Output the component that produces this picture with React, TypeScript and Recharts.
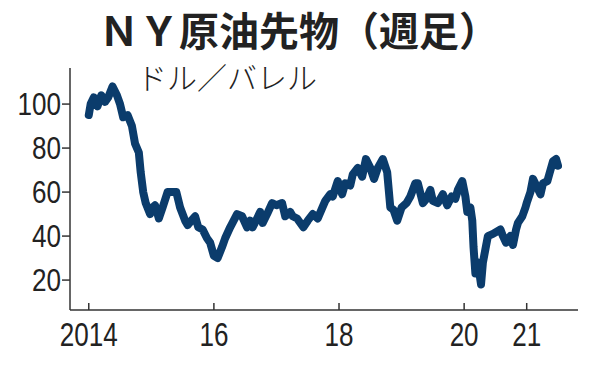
import React from 'react'
import { Line, LineChart, XAxis, YAxis } from 'recharts'

// time in fractional years
const weeks = [
  2014.0, 2014.03, 2014.08, 2014.14, 2014.2, 2014.26, 2014.31, 2014.38, 2014.45, 2014.5,
  2014.55, 2014.62, 2014.69, 2014.74, 2014.8, 2014.83, 2014.87, 2014.91, 2014.98, 2015.02,
  2015.06, 2015.12, 2015.18, 2015.26, 2015.4, 2015.46, 2015.54, 2015.58, 2015.64, 2015.7,
  2015.75, 2015.82, 2015.89, 2015.94, 2016.0, 2016.06, 2016.13, 2016.18, 2016.26, 2016.37,
  2016.45, 2016.53, 2016.58, 2016.62, 2016.69, 2016.74, 2016.78, 2016.85, 2016.93, 2017.0,
  2017.09, 2017.14, 2017.22, 2017.26, 2017.33, 2017.43, 2017.5, 2017.58, 2017.66, 2017.72,
  2017.78, 2017.86, 2017.9, 2017.98, 2018.05, 2018.1, 2018.18, 2018.22, 2018.3, 2018.37,
  2018.43, 2018.5, 2018.56, 2018.62, 2018.7, 2018.77, 2018.82, 2018.87, 2018.93, 2019.0,
  2019.08, 2019.14, 2019.22, 2019.26, 2019.34, 2019.4, 2019.46, 2019.5, 2019.58, 2019.66,
  2019.73, 2019.8, 2019.86, 2019.9, 2019.97, 2020.02, 2020.05, 2020.1, 2020.13, 2020.15,
  2020.18, 2020.22, 2020.27, 2020.3, 2020.34, 2020.38, 2020.46, 2020.58, 2020.62, 2020.67,
  2020.74, 2020.78, 2020.83, 2020.86, 2020.93, 2020.98, 2021.0, 2021.06, 2021.1, 2021.17,
  2021.22, 2021.26, 2021.33, 2021.36, 2021.42, 2021.47, 2021.5,
]

// WTI close, dollars per barrel
const prices = [
  95, 100, 103, 99, 104, 101, 103, 108, 104, 100,
  94, 95, 90, 82, 78, 69, 60, 55, 50, 53,
  54, 48, 53, 60, 60, 53, 47, 45, 47, 49,
  44, 43, 39, 37, 31, 30, 35, 39, 44, 50,
  49, 44, 47, 44, 48, 51, 46, 50, 55, 54,
  55, 49, 51, 49, 48, 44, 47, 50, 48, 52,
  56, 59, 58, 65, 59, 64, 63, 68, 71, 67,
  75, 71, 66, 71, 75, 69, 53, 52, 47, 53,
  55, 58, 64, 64, 55, 57, 61, 56, 55, 59,
  54, 58, 57, 61, 65, 58, 51, 53, 47, 35,
  23, 28, 18, 28, 34, 40, 41, 43, 40, 37,
  40, 36, 43, 46, 49, 53, 55, 60, 66, 62,
  59, 64, 65, 68, 74, 75, 72,
]

const yearTicks = [2014, 2016, 2018, 2020, 2021]
const yearLabels = ['2014', '16', '18', '20', '21']
const priceTicks = [20, 40, 60, 80, 100]

const data = weeks.map((t, i) => ({ t, price: prices[i] }))

const numFont = '"Liberation Sans", sans-serif'
const jpFont = '"Noto Sans CJK JP", sans-serif'
const digitW = 14.5 // condensed digits in the original

function YearTick({ x, y, payload }: any) {
  const label = yearLabels[yearTicks.indexOf(payload.value)]
  return (
    <g>
      <line x1={x} x2={x} y1={y - 7} y2={y} stroke='#333' strokeWidth={1.5} />
      <text x={x} y={y + 36} textAnchor='middle' fontSize={34} fontFamily={numFont} fill='#222'
        textLength={label.length * digitW} lengthAdjust='spacingAndGlyphs'>
        {label}
      </text>
    </g>
  )
}

function PriceTick({ x, y, payload }: any) {
  const label = String(payload.value)
  return (
    <text x={x} y={y} dy='0.355em' textAnchor='end' fontSize={32} fontFamily={numFont} fill='#222'
      textLength={label.length * digitW} lengthAdjust='spacingAndGlyphs'>
      {label}
    </text>
  )
}

export default function App() {
  return (
    <div style={{ position: 'absolute', left: 0, top: 0, width: 596, height: 368, background: '#fff' }}>
      <div style={{
        position: 'absolute', left: 99, top: 9, fontSize: 40, lineHeight: '40px',
        fontWeight: 700, fontFamily: jpFont, color: '#222', whiteSpace: 'nowrap'
      }}>
        ＮＹ原油先物（週足）
      </div>
      <div style={{
        position: 'absolute', left: 137, top: 61, fontSize: 30, lineHeight: '30px',
        fontWeight: 300, fontFamily: jpFont, color: '#222', whiteSpace: 'nowrap'
      }}>
        ドル／バレル
      </div>
      <LineChart width={596} height={368} data={data} margin={{ top: 68, right: 18, bottom: 0, left: 0 }}>
        <XAxis
          dataKey='t'
          type='number'
          domain={[2013.7, 2021.82]}
          ticks={yearTicks}
          height={58}
          tickSize={0}
          tickMargin={0}
          tick={<YearTick />}
          axisLine={{ stroke: '#333', strokeWidth: 1.5 }}
          interval={0}
        />
        <YAxis
          type='number'
          domain={[6.4, 116.4]}
          ticks={priceTicks}
          width={70}
          tickSize={8}
          tickMargin={1}
          interval={0}
          tick={<PriceTick />}
          tickLine={{ stroke: '#333', strokeWidth: 1.5 }}
          axisLine={{ stroke: '#333', strokeWidth: 1.5 }}
        />
        <Line
          dataKey='price'
          type='linear'
          stroke='#0b3c6c'
          strokeWidth={8}
          strokeLinejoin='round'
          strokeLinecap='round'
          dot={false}
          isAnimationActive={false}
        />
      </LineChart>
    </div>
  )
}
